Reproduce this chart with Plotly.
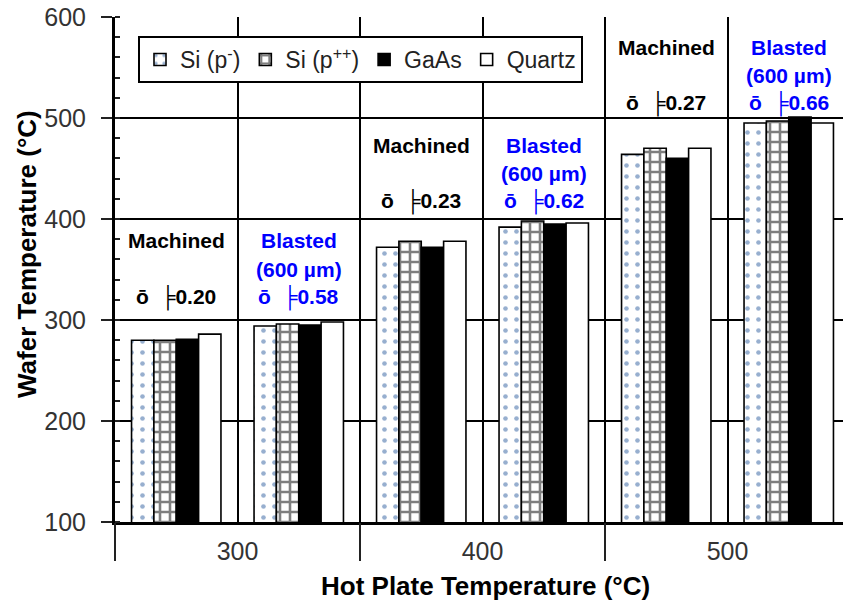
import plotly.graph_objects as go

# ---------------- data ----------------
subgroups = ["300 Machined", "300 Blasted", "400 Machined", "400 Blasted", "500 Machined", "500 Blasted"]
hot_plate = ["300", "400", "500"]
series_names = ["Si (p<sup>-</sup>)", "Si (p<sup>++</sup>)", "GaAs", "Quartz"]
si_p_minus = [280, 294, 372, 392, 464, 495]
si_p_pp = [280, 296, 378, 398, 470, 497]
gaas = [281, 295, 372, 395, 460, 501]
quartz = [286, 298, 378, 396, 470, 495]
surface = ["Machined", "Blasted", "Machined", "Blasted", "Machined", "Blasted"]
emissivity = ["0.20", "0.58", "0.23", "0.62", "0.27", "0.66"]
y_ticks = [100, 200, 300, 400, 500, 600]

FONT = "Liberation Sans, Arial, sans-serif"
W, H = 843, 604
ML, MT, MB, MR = 115, 17, 82, 0
plot_w = W - ML - MR
plot_h = H - MT - MB
# the original plot area is a bit wider than the picture (cut at the right)
full_w = 735.0
xr = [-0.5, -0.5 + len(subgroups) * plot_w / full_w]

fig = go.Figure()

styles = [
    dict(color="white", pattern=dict(shape=".", fgcolor="#2f5f9f", bgcolor="white", size=11, solidity=0.14)),
    dict(color="white", pattern=dict(shape="+", fgcolor="black", bgcolor="white", size=10, solidity=0.45)),
    dict(color="black"),
    dict(color="white"),
]
for name, vals, st in zip(series_names, [si_p_minus, si_p_pp, gaas, quartz], styles):
    fig.add_trace(go.Bar(
        x=subgroups, y=vals, name=name,
        marker=dict(line=dict(color="black", width=1.6), **st),
        xaxis="x", yaxis="y",
    ))

# invisible trace to activate the second x axis (group labels + long ticks)
fig.add_trace(go.Scatter(x=[xr[0]], y=[y_ticks[0]], xaxis="x2", yaxis="y",
                         mode="markers", marker=dict(opacity=0), showlegend=False, hoverinfo="skip"))

def py_to_paper(py):
    return (H - MB - py) / plot_h

annotations = []
first_line_px = [241, 241, 145, 145, 47, 47]
line_h = 28
for cat, surf, eps, p0 in zip(subgroups, surface, emissivity, first_line_px):
    col = "black" if surf == "Machined" else "#0000ff"
    lines = [surf, None if surf == "Machined" else "(600 µm)", "ō  ╞" + eps]
    for k, t in enumerate(lines):
        if t is None:
            continue
        annotations.append(dict(
            x=cat, xref="x", y=py_to_paper(p0 + k * line_h), yref="paper",
            text=t, showarrow=False, xanchor="center", yanchor="middle",
            font=dict(family=FONT, size=21, color=col, weight="bold"),
        ))

# axis titles
annotations.append(dict(
    x=(485 - ML) / plot_w, xref="paper", y=py_to_paper(586), yref="paper",
    text="Hot Plate Temperature (°C)", showarrow=False, xanchor="center", yanchor="middle",
    font=dict(family=FONT, size=26, color="black", weight="bold"),
))
annotations.append(dict(
    x=(27 - ML) / plot_w, xref="paper", y=py_to_paper(254), yref="paper",
    text="Wafer Temperature (°C)", showarrow=False, textangle=-90,
    xanchor="center", yanchor="middle",
    font=dict(family=FONT, size=26, color="black", weight="bold"),
))

fig.update_layout(
    width=W, height=H,
    margin=dict(l=ML, r=MR, t=MT, b=MB, pad=0),
    paper_bgcolor="white", plot_bgcolor="white",
    barmode="group", bargap=0.27, bargroupgap=0,
    showlegend=True,
    legend=dict(
        orientation="h", x=(138 - ML) / plot_w, y=py_to_paper(36),
        xanchor="left", yanchor="top",
        bgcolor="white", bordercolor="black", borderwidth=2,
        font=dict(family=FONT, size=23, color="#222"),
        itemwidth=30, tracegroupgap=0,
    ),
    xaxis=dict(
        type="category", range=xr, tickson="boundaries",
        showgrid=True, gridcolor="black", gridwidth=2,
        showticklabels=False, ticks="",
        showline=True, linecolor="black", linewidth=3,
        zeroline=False, fixedrange=True,
    ),
    xaxis2=dict(
        overlaying="x", anchor="y", side="bottom", type="linear", range=xr,
        tickmode="array",
        tickvals=[2 * i + 0.5 for i in range(len(hot_plate))], ticktext=hot_plate,
        ticks="", showgrid=False, showline=False, zeroline=False,
        tickfont=dict(family=FONT, size=25, color="#333"),
        ticklabelstandoff=12,
        minor=dict(tickmode="array", tickvals=[2 * i - 0.5 for i in range(len(hot_plate))],
                   ticks="outside", ticklen=38, tickwidth=2, tickcolor="#222", showgrid=False),
    ),
    yaxis=dict(
        range=[y_ticks[0], y_ticks[-1]], tickmode="array", tickvals=y_ticks,
        ticks="outside", ticklen=11, tickwidth=2, tickcolor="#222",
        showgrid=True, gridcolor="black", gridwidth=2,
        showline=True, linecolor="black", linewidth=3,
        zeroline=False,
        tickfont=dict(family=FONT, size=25, color="#333"),
        ticklabelstandoff=10,
        minor=dict(dtick=20, ticks="inside", ticklen=5, tickwidth=1.5, tickcolor="#222", showgrid=False),
    ),
    annotations=annotations,
)

fig.write_html("out.html")
